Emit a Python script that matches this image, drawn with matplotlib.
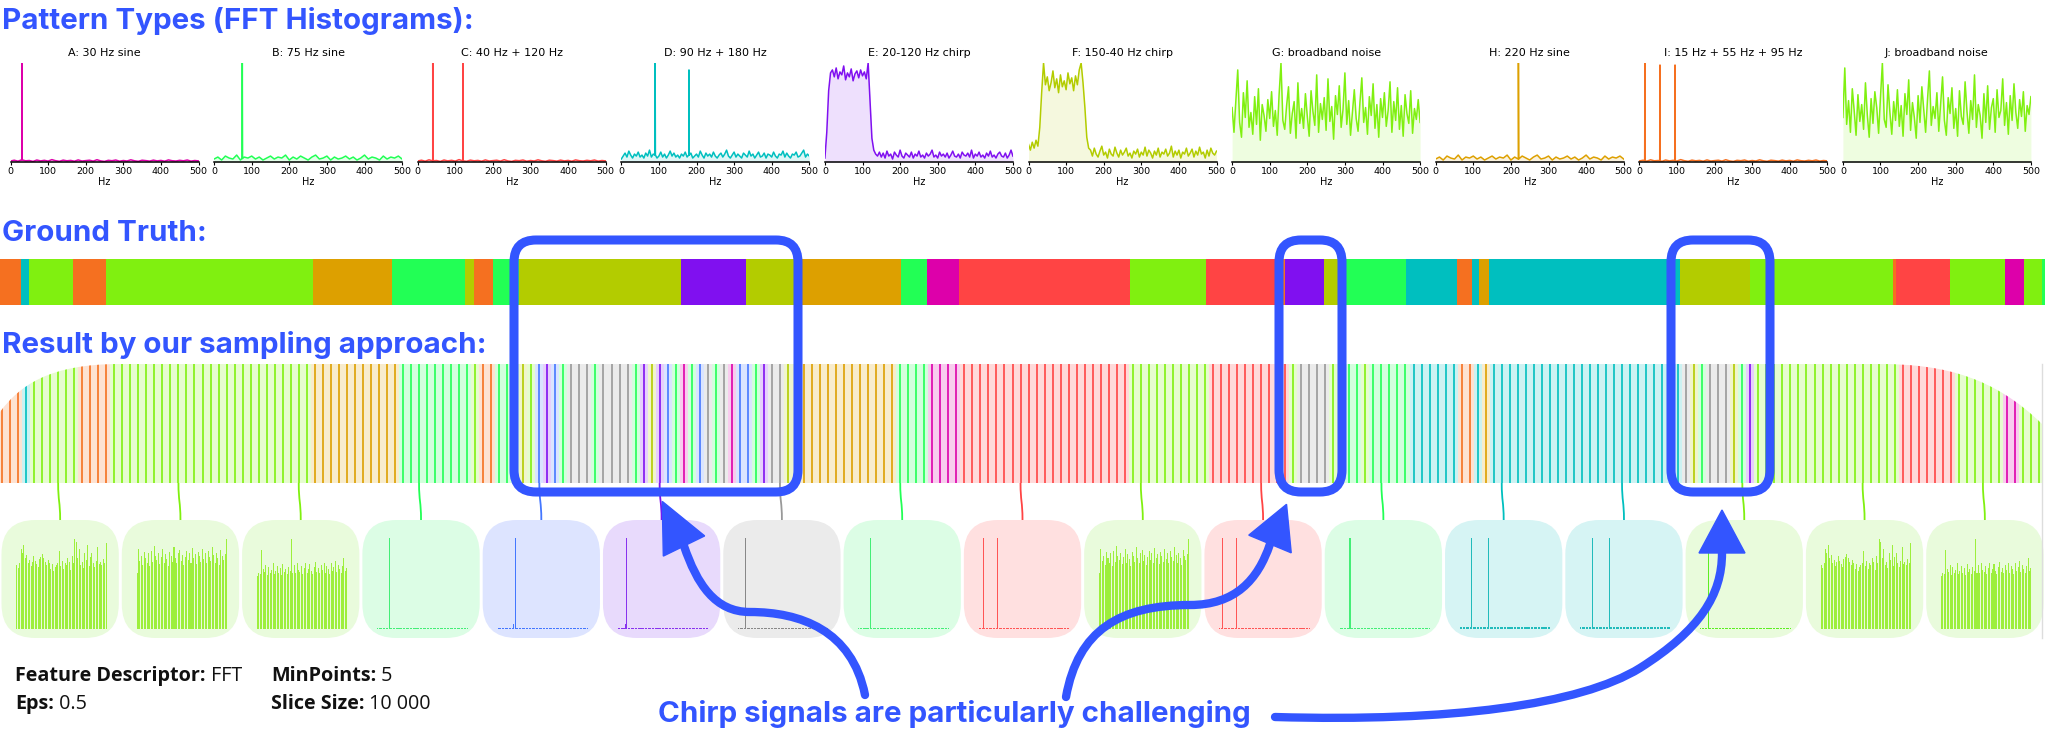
import numpy as np
import matplotlib
matplotlib.use("Agg")
import matplotlib.pyplot as plt
from matplotlib.patches import FancyBboxPatch, PathPatch, Polygon
from matplotlib.path import Path
from matplotlib.colors import to_rgb

W, H = 2045, 736
BLUE = '#3355FF'

COLORS = {
    'A': '#DD00AA', 'B': '#22FF55', 'C': '#FF4444', 'D': '#00BFBF', 'E': '#8010F0',
    'F': '#B3CC00', 'G': '#80F010', 'H': '#DDA000', 'I': '#F57020', 'J': '#80F010',
    'N': '#999999', 'U': '#4477FF',
}

# ---- pattern type spectra ----
PANEL_KEYS = list('ABCDEFGHIJ')
PANEL_TITLES = ['A: 30 Hz sine', 'B: 75 Hz sine', 'C: 40 Hz + 120 Hz', 'D: 90 Hz + 180 Hz',
                'E: 20-120 Hz chirp', 'F: 150-40 Hz chirp', 'G: broadband noise',
                'H: 220 Hz sine', 'I: 15 Hz + 55 Hz + 95 Hz', 'J: broadband noise']
SPIKES = {'A': [(30, 1.0)], 'B': [(75, 1.0)], 'C': [(40, 1.0), (120, 1.0)],
          'D': [(90, 1.0), (180, 0.93)], 'H': [(220, 1.0)],
          'I': [(15, 1.0), (55, 0.98), (95, 0.98)]}

# noise floors, 10 Hz steps 0..500
FLOOR_LOW = [0.010, 0.018, 0.008, 0.022, 0.012, 0.015, 0.006, 0.020, 0.011, 0.017,
             0.009, 0.024, 0.013, 0.007, 0.019, 0.012, 0.016, 0.008, 0.021, 0.010,
             0.014, 0.018, 0.009, 0.023, 0.011, 0.006, 0.017, 0.013, 0.020, 0.008,
             0.015, 0.010, 0.022, 0.012, 0.007, 0.018, 0.014, 0.009, 0.019, 0.011,
             0.016, 0.008, 0.021, 0.013, 0.010, 0.017, 0.012, 0.020, 0.009, 0.015, 0.011]
FLOOR_MID = [0.03, 0.05, 0.02, 0.06, 0.04, 0.03, 0.07, 0.02, 0.05, 0.04,
             0.06, 0.03, 0.05, 0.02, 0.04, 0.06, 0.03, 0.05, 0.04, 0.07,
             0.02, 0.05, 0.03, 0.06, 0.04, 0.02, 0.05, 0.07, 0.03, 0.04,
             0.06, 0.02, 0.05, 0.03, 0.04, 0.06, 0.03, 0.05, 0.02, 0.04,
             0.07, 0.03, 0.05, 0.04, 0.02, 0.06, 0.03, 0.05, 0.04, 0.06, 0.03]

# finer spectra, 5 Hz steps 0..500
SPEC_D = [0.03, 0.06, 0.09, 0.05, 0.11, 0.07, 0.04, 0.08, 0.06, 0.10,
          0.05, 0.07, 0.04, 0.09, 0.06, 0.12, 0.05, 0.08, 0.07, 0.04,
          0.06, 0.10, 0.05, 0.08, 0.04, 0.07, 0.11, 0.06, 0.09, 0.05,
          0.07, 0.04, 0.08, 0.06, 0.10, 0.05, 0.07, 0.09, 0.04, 0.06,
          0.08, 0.05, 0.11, 0.07, 0.04, 0.09, 0.06, 0.08, 0.05, 0.10,
          0.06, 0.04, 0.07, 0.09, 0.05, 0.08, 0.12, 0.06, 0.04, 0.07,
          0.10, 0.05, 0.08, 0.06, 0.04, 0.09, 0.07, 0.05, 0.11, 0.06,
          0.08, 0.04, 0.07, 0.10, 0.05, 0.06, 0.09, 0.04, 0.08, 0.07,
          0.05, 0.10, 0.06, 0.04, 0.08, 0.07, 0.11, 0.05, 0.09, 0.06,
          0.04, 0.08, 0.07, 0.10, 0.05, 0.06, 0.09, 0.12, 0.05, 0.08, 0.06]
SPEC_E = [0.04, 0.30, 0.72, 0.90, 0.93, 0.86, 0.95, 0.84, 0.91, 0.88,
          0.97, 0.83, 0.90, 0.86, 0.94, 0.82, 0.89, 0.92, 0.85, 0.93,
          0.87, 0.91, 0.84, 1.00, 0.62, 0.24, 0.12, 0.08, 0.06, 0.10,
          0.05, 0.09, 0.04, 0.11, 0.06, 0.08, 0.03, 0.10, 0.07, 0.05,
          0.12, 0.06, 0.04, 0.09, 0.07, 0.05, 0.10, 0.04, 0.08, 0.06,
          0.11, 0.05, 0.07, 0.04, 0.09, 0.06, 0.08, 0.12, 0.05, 0.07,
          0.04, 0.10, 0.06, 0.08, 0.05, 0.09, 0.04, 0.07, 0.11, 0.06,
          0.05, 0.08, 0.04, 0.10, 0.07, 0.06, 0.09, 0.05, 0.12, 0.04,
          0.08, 0.06, 0.10, 0.05, 0.07, 0.04, 0.09, 0.06, 0.11, 0.05,
          0.07, 0.04, 0.08, 0.10, 0.06, 0.05, 0.09, 0.04, 0.07, 0.12, 0.06]
SPEC_F = [0.18, 0.12, 0.20, 0.14, 0.22, 0.16, 0.35, 0.70, 1.00, 0.78,
          0.86, 0.72, 0.80, 0.92, 0.75, 0.84, 0.70, 0.88, 0.76, 0.82,
          0.73, 0.90, 0.79, 0.85, 0.72, 0.87, 0.78, 0.93, 1.00, 0.80,
          0.55, 0.25, 0.14,
          0.12, 0.06, 0.14, 0.08, 0.05, 0.11, 0.16, 0.07, 0.10, 0.04,
          0.13, 0.08, 0.06, 0.15, 0.09, 0.05, 0.12, 0.07, 0.10, 0.14,
          0.06, 0.09, 0.04, 0.11, 0.08, 0.13, 0.05, 0.10, 0.07, 0.15,
          0.06, 0.12, 0.09, 0.04, 0.11, 0.07, 0.14, 0.05, 0.10, 0.08,
          0.13, 0.06, 0.09, 0.16, 0.05, 0.11, 0.07, 0.12, 0.04, 0.10,
          0.08, 0.14, 0.06, 0.09, 0.13, 0.05, 0.11, 0.07, 0.15, 0.08,
          0.10, 0.04, 0.12, 0.06, 0.14, 0.09, 0.07, 0.11]
SPEC_G = [0.55, 0.30, 0.62, 0.93, 0.40, 0.25, 0.70, 0.45, 0.82, 0.35,
          0.50, 0.28, 0.66, 0.38, 0.74, 0.22, 0.58, 0.47, 0.31, 0.63,
          0.44, 0.71, 0.36, 0.52, 0.27, 0.68, 1.00, 0.42, 0.33, 0.57,
          0.76, 0.29, 0.49, 0.61, 0.24, 0.80, 0.39, 0.54, 0.34, 0.69,
          0.46, 0.26, 0.72, 0.51, 0.37, 0.88, 0.30, 0.59, 0.43, 0.65,
          0.32, 0.84, 0.41, 0.56, 0.23, 0.67, 0.48, 0.77, 0.35, 0.53,
          0.90, 0.38, 0.62, 0.27, 0.50, 0.73, 0.44, 0.31, 0.60, 0.85,
          0.40, 0.55, 0.28, 0.66, 0.47, 0.79, 0.34, 0.58, 0.25, 0.64,
          0.45, 0.70, 0.36, 0.52, 0.81, 0.30, 0.61, 0.42, 0.75, 0.33,
          0.57, 0.26, 0.68, 0.49, 0.39, 0.72, 0.29, 0.54, 0.43, 0.63, 0.40]
SPEC_J = [0.45, 0.95, 0.38, 0.62, 0.30, 0.74, 0.52, 0.27, 0.68, 0.41,
          0.58, 0.33, 0.80, 0.47, 0.25, 0.64, 0.39, 0.71, 0.55, 0.29,
          0.66, 1.00, 0.43, 0.35, 0.78, 0.50, 0.28, 0.61, 0.42, 0.73,
          0.36, 0.57, 0.26, 0.69, 0.48, 0.83, 0.32, 0.60, 0.45, 0.24,
          0.67, 0.40, 0.76, 0.53, 0.30, 0.63, 0.92, 0.37, 0.56, 0.44,
          0.70, 0.31, 0.59, 0.86, 0.42, 0.27, 0.65, 0.49, 0.75, 0.34,
          0.54, 0.26, 0.72, 0.46, 0.38, 0.81, 0.51, 0.29, 0.62, 0.43,
          0.88, 0.35, 0.58, 0.47, 0.24, 0.69, 0.40, 0.77, 0.33, 0.55,
          0.64, 0.30, 0.73, 0.45, 0.52, 0.84, 0.37, 0.60, 0.28, 0.67,
          0.42, 0.79, 0.50, 0.34, 0.63, 0.46, 0.71, 0.31, 0.57, 0.48, 0.66]
COARSE = {'A': FLOOR_LOW, 'B': FLOOR_MID, 'C': FLOOR_LOW, 'H': FLOOR_MID, 'I': FLOOR_LOW}
FINE = {'D': SPEC_D, 'E': SPEC_E, 'F': SPEC_F, 'G': SPEC_G, 'J': SPEC_J}

# ---- ground truth segments (in slice units) ----
GT_LABELS = ['I', 'D', 'G', 'I', 'G', 'H', 'B', 'F', 'I', 'B', 'F', 'E', 'F', 'H', 'B', 'A', 'C', 'G',
             'C', 'I', 'E', 'F', 'B', 'D', 'I', 'D', 'H', 'D', 'F', 'G', 'I', 'C', 'G', 'A', 'G', 'B']
GT_EDGES = [-0.3, 2.4, 3.4, 8.9, 13.0, 38.8, 48.6, 57.7, 58.9, 61.2, 64.5, 84.7, 92.8, 99.8,
            112.1, 115.3, 119.3, 140.7, 150.1, 159.5, 160.0, 164.8, 166.7, 175.1, 181.4, 183.3,
            184.2, 185.4, 209.2, 218.0, 235.8, 236.2, 242.9, 249.8, 252.1, 254.4, 254.7]

# ---- clustering result, one label per slice (run lengths) ----
SLICE_RUNS = [('I', 3), ('D', 1), ('G', 6), ('I', 4), ('G', 25), ('H', 11), ('B', 9), ('G', 1),
              ('I', 2), ('B', 3), ('F', 1), ('G', 1), ('U', 1), ('E', 1), ('U', 1), ('B', 1),
              ('N', 3), ('B', 1), ('N', 4), ('B', 1), ('E', 1), ('F', 1), ('E', 1), ('U', 1),
              ('B', 1), ('A', 1), ('B', 1), ('U', 1), ('N', 1), ('B', 1), ('N', 1), ('A', 1),
              ('U', 2), ('B', 1), ('E', 1), ('N', 2), ('F', 2), ('H', 12), ('B', 4), ('A', 4),
              ('C', 21), ('G', 10), ('C', 10), ('G', 1), ('N', 4), ('G', 2), ('B', 2), ('G', 1),
              ('B', 5), ('D', 6), ('I', 2), ('D', 1), ('H', 1), ('D', 24), ('N', 1), ('F', 1),
              ('B', 1), ('N', 3), ('F', 1), ('B', 1), ('E', 1), ('G', 18), ('C', 7), ('G', 6),
              ('A', 2), ('G', 3)]

# ---- cluster thumbnails ----
THUMB_CLUSTER = ['G', 'G', 'G', 'B', 'U', 'E', 'N', 'B', 'C', 'G', 'C', 'B', 'D', 'D', 'G', 'G', 'G']
THUMB_SPIKES = {3: [8], 4: [12], 5: [6], 6: [5], 7: [8], 8: [3, 13], 10: [2, 12], 11: [7],
                12: [8, 20], 13: [8, 20], 14: [5]}
THUMB_BUMPS = {4: (11, 0.05), 5: (5, 0.05)}
THUMB_FLOOR = {3: 0.01, 4: 0.01, 5: 0.01, 6: 0.012, 7: 0.01, 8: 0.01, 10: 0.01, 11: 0.01,
               12: 0.025, 13: 0.025, 14: 0.01}
NOISE_T1 = [0.70, 0.67, 0.73, 0.88, 0.84, 0.92, 0.78, 0.81, 0.72, 0.76,
            0.69, 0.74, 0.80, 0.75, 0.71, 0.68, 0.77, 0.79, 0.82, 0.78,
            0.74, 0.70, 0.76, 0.73, 0.66, 0.71, 0.64, 0.68, 0.70, 0.72,
            0.86, 0.69, 0.75, 0.66, 0.73, 0.70, 0.78, 0.74, 0.65, 0.80,
            0.72, 0.99, 0.96, 0.78, 0.88, 0.70, 0.74, 0.67, 0.83, 0.76,
            0.92, 0.69, 0.79, 0.84, 0.72, 0.68, 0.75, 0.90, 0.71, 0.74,
            0.70, 0.77, 0.73, 0.94]
NOISE_T2 = [0.62, 0.88, 0.75, 0.80, 0.70, 0.85, 0.78, 0.72, 0.83, 0.69,
            0.86, 0.74, 0.91, 0.80, 0.76, 0.84, 0.71, 0.79, 0.88, 0.73,
            0.82, 0.77, 0.69, 0.85, 0.80, 0.74, 0.90, 0.78, 0.72, 0.83,
            0.87, 0.75, 0.81, 0.70, 0.79, 0.86, 0.76, 0.84, 0.73, 0.89,
            0.78, 0.82, 0.71, 0.85, 0.80, 0.74, 0.88, 0.77, 0.83, 0.72,
            0.86, 0.79, 0.75, 0.90, 0.81, 0.73, 0.84, 0.78, 0.70, 0.87,
            0.80, 0.76, 0.82, 0.99]
NOISE_T3 = [0.58, 0.62, 0.60, 0.87, 0.66, 0.63, 0.70, 0.59, 0.68, 0.61,
            0.65, 0.72, 0.60, 0.64, 0.69, 0.62, 0.67, 0.59, 0.71, 0.63,
            0.66, 0.60, 0.68, 0.64, 0.99, 0.62, 0.70, 0.61, 0.73, 0.65,
            0.63, 0.69, 0.60, 0.67, 0.72, 0.62, 0.66, 0.71, 0.64, 0.60,
            0.68, 0.74, 0.63, 0.67, 0.61, 0.70, 0.65, 0.73, 0.62, 0.69,
            0.66, 0.60, 0.72, 0.64, 0.68, 0.75, 0.63, 0.70, 0.66, 0.61,
            0.69, 0.78, 0.64, 0.67]
THUMB_NOISE = {0: NOISE_T1, 1: NOISE_T2, 2: NOISE_T3, 9: NOISE_T2, 15: NOISE_T1, 16: NOISE_T3}
THUMB_BAR = {'G': '#9DEF3C', 'B': '#44EE77', 'U': '#4477FF', 'E': '#8833EE', 'N': '#888888',
             'C': '#FF5555', 'D': '#22BBBB'}
THUMB_BG = {'G': '#E9FBDC', 'B': '#DCFDE5', 'U': '#DDE4FF', 'E': '#E8DAFC', 'N': '#EBEBEB',
            'C': '#FFE0E0', 'D': '#D6F4F4'}


def light(c, a=0.2):
    r = np.array(to_rgb(c))
    return tuple(a * r + (1 - a))


fig = plt.figure(figsize=(W / 100, H / 100), dpi=100)


def px_axes(x0, y0, x1, y1, z=1):
    ax = fig.add_axes([x0 / W, 1 - y1 / H, (x1 - x0) / W, (y1 - y0) / H])
    ax.set_zorder(z)
    return ax


bg = px_axes(0, 0, W, H, z=0)
top = px_axes(0, 0, W, H, z=20)
for ov in (bg, top):
    ov.set_xlim(0, W)
    ov.set_ylim(H, 0)
    ov.axis('off')
    ov.patch.set_alpha(0)

# ---- top row: FFT histograms ----
for k, key in enumerate(PANEL_KEYS):
    x0 = 10.5 + 203.6 * k
    ax = px_axes(x0, 63, x0 + 188, 162)
    if key in FINE:
        f = np.arange(0, 501, 5.0)
        a = np.array(FINE[key], dtype=float)
    else:
        f = np.arange(0, 501, 10.0)
        a = np.array(COARSE[key], dtype=float)
    for sf, sa in SPIKES.get(key, []):
        base = np.interp(sf, f, a)
        f = np.concatenate([f, [sf - 0.7, sf, sf + 0.7]])
        a = np.concatenate([a, [base, sa, base]])
    order = np.argsort(f, kind='stable')
    f, a = f[order], a[order]
    c = COLORS[key]
    ax.fill_between(f, 0, a, color=c, alpha=0.13, lw=0)
    ax.plot(f, a, color=c, lw=1.1)
    ax.set_xlim(0, 500)
    ax.set_ylim(0, 1.0)
    ax.set_xticks(range(0, 501, 100))
    ax.tick_params(axis='x', labelsize=6.8, length=2, pad=1.5, width=0.8)
    ax.set_yticks([])
    for s in ('top', 'right', 'left'):
        ax.spines[s].set_visible(False)
    ax.spines['bottom'].set_linewidth(1.1)
    ax.set_xlabel('Hz', fontsize=7, labelpad=1)
    ax.set_title(PANEL_TITLES[k], fontsize=8, pad=5)
    ax.patch.set_alpha(0)

# ---- ground truth bar ----
gt = px_axes(0, 259, W, 305)
gt_left = np.array(GT_EDGES[:-1])
gt_w = np.diff(GT_EDGES)
gt.bar(gt_left, 1, width=gt_w, align='edge', color=[COLORS[l] for l in GT_LABELS], lw=0)
gt.set_xlim(-0.25, 254.74)
gt.set_ylim(0, 1)
gt.axis('off')

# ---- sampled slices ----
labels = [l for l, n in SLICE_RUNS for _ in range(n)]
idx = np.arange(len(labels))
strip = px_axes(0, 364, W, 483)
strip.set_xlim(-0.25, 254.74)
strip.set_ylim(0, 1)
strip.axis('off')
bars = strip.bar(idx, 1, width=1.0, color=[light(COLORS[l]) for l in labels], lw=0)
vl = strip.vlines(idx, 0, 1, colors=[COLORS[l] for l in labels], lw=1.2)

clip = Path([(0, 412), (20, 385), (50, 364), (120, 364), (1880, 364),
             (1945, 364), (1995, 378), (2042, 424), (2042, 483), (0, 483), (0, 412)],
            [Path.MOVETO, Path.CURVE4, Path.CURVE4, Path.CURVE4, Path.LINETO,
             Path.CURVE4, Path.CURVE4, Path.CURVE4, Path.LINETO, Path.LINETO, Path.CLOSEPOLY])
for p in bars.patches:
    p.set_clip_path(clip, top.transData)
vl.set_clip_path(clip, top.transData)
bg.plot([2042, 2042], [364, 638], color='#DDDDDD', lw=1)

# ---- thumbnails + connectors ----
cell = W / 17
to_slice = strip.transData.inverted()
for k, cl in enumerate(THUMB_CLUSTER):
    cx = k * cell + 1.5
    bg.add_patch(FancyBboxPatch((cx, 520), cell - 3, 118, boxstyle='round,pad=0,rounding_size=34',
                                fc=THUMB_BG[cl], ec='none'))
    # connector from nearest slice to the box centre
    mid = (k + 0.5) * cell
    s = np.round(to_slice.transform((mid, 0))[0])
    sx = strip.transData.transform((s, 0))[0]
    con = Path([(sx, 483), (sx, 502), (mid, 501), (mid, 520)],
               [Path.MOVETO, Path.CURVE4, Path.CURVE4, Path.CURVE4])
    bg.add_patch(PathPatch(con, fc='none', ec=COLORS[cl], lw=1.3))

    tax = px_axes(cx + 14.5, 538, cx + 105.5, 629, z=2)
    tax.set_xlim(-0.6, 63.6)
    tax.set_ylim(0, 1)
    tax.axis('off')
    tax.patch.set_alpha(0)
    if k in THUMB_NOISE:
        vals = np.array(THUMB_NOISE[k])
    else:
        vals = np.full(64, THUMB_FLOOR[k])
        for b in THUMB_SPIKES[k]:
            vals[b] = 1.0
        if k in THUMB_BUMPS:
            b, v = THUMB_BUMPS[k]
            vals[b] = v
    col = THUMB_BAR[cl]
    if k == 14:
        col = '#5DEE22'
    tax.bar(np.arange(64), vals, width=0.72, color=col, lw=0)

# ---- headings ----
hfont = dict(family='Inter', fontweight='bold', color=BLUE, fontsize=21.3, va='baseline')
top.text(2, 29, 'Pattern Types (FFT Histograms):', **hfont)
top.text(2, 241, 'Ground Truth:', **hfont)
top.text(2, 353, 'Result by our sampling approach:', **hfont)
top.text(658, 722, 'Chirp signals are particularly challenging', **hfont)

# ---- parameters ----
pfont = dict(family='Open Sans', fontsize=14.2, color='#111111', va='bottom')
for x, y, b, r in [(15, 686, 'Feature Descriptor:', ' FFT'), (15, 714, 'Eps:', ' 0.5'),
                   (271, 686, 'MinPoints:', ' 5'), (271, 714, 'Slice Size:', ' 10 000')]:
    t = top.text(x, y, b, fontweight='bold', **pfont)
    top.annotate(r, xy=(1, 0), xycoords=t, **pfont)

# ---- highlight boxes ----
for x0, x1 in [(514, 798), (1279, 1342), (1671, 1770)]:
    top.add_patch(FancyBboxPatch((x0, 240), x1 - x0, 252,
                                 boxstyle='round,pad=0,rounding_size=22',
                                 fc='none', ec=BLUE, lw=6.5))

# ---- arrows ----
C4 = Path.CURVE4
arrows = [
    ([(865, 695), (852, 630), (800, 612), (750, 612), (715, 612), (697, 584), (684, 546)],
     (664, 505)),
    ([(1066, 697), (1078, 630), (1120, 605), (1190, 605), (1235, 605), (1258, 580), (1270, 544)],
     (1285, 508)),
    ([(1275, 717), (1450, 722), (1580, 705), (1640, 668), (1700, 630), (1722, 595), (1722, 553)],
     (1722, 514)),
]
for pts, tip in arrows:
    path = Path(pts, [Path.MOVETO, C4, C4, C4, C4, C4, C4])
    top.add_patch(PathPatch(path, fc='none', ec=BLUE, lw=6, capstyle='round'))
    base = np.array(pts[-1], dtype=float)
    tp = np.array(tip, dtype=float)
    d = tp - base
    d /= np.hypot(*d)
    n = np.array([-d[1], d[0]])
    head = [tp + 4 * d, base + 23 * n, base - 23 * n]
    top.add_patch(Polygon(head, closed=True, fc=BLUE, ec=BLUE, lw=1))

fig.savefig('out.png', dpi=100)
